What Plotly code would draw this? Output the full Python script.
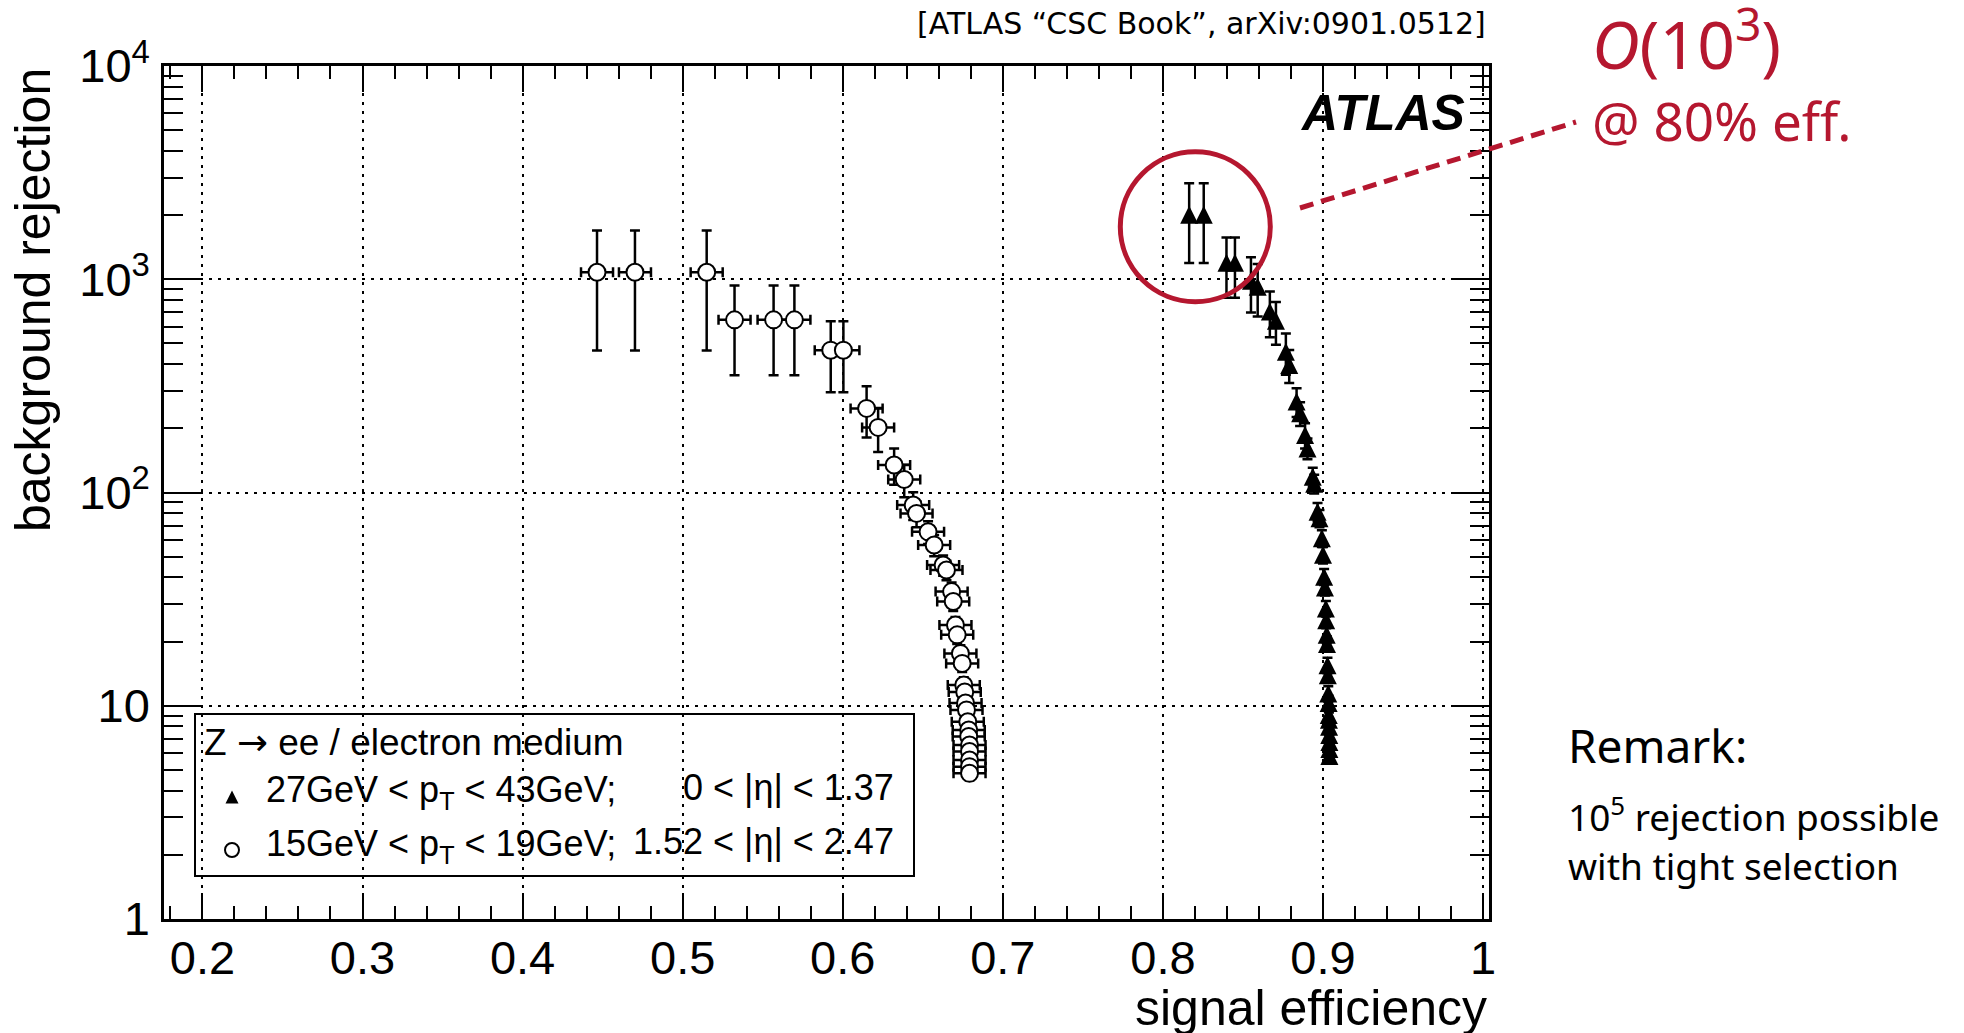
import plotly.graph_objects as go

# ---------------- data ----------------
# 27 GeV < pT < 43 GeV, 0 < |eta| < 1.37  (filled triangles)
eff_central = [0.8164, 0.8255, 0.8397, 0.8450, 0.8550, 0.8592, 0.8668, 0.8706,
               0.8768, 0.8789, 0.8835, 0.8857, 0.8888, 0.8903, 0.8936, 0.8945,
               0.8966, 0.8978, 0.8993, 0.9000, 0.9007, 0.9012, 0.9018, 0.9020,
               0.9023, 0.9025, 0.9028, 0.9030, 0.9033, 0.9035, 0.9036, 0.9037,
               0.9038, 0.9039, 0.9040, 0.9040, 0.9040]
rej_central = [2006, 2006, 1195, 1195, 984, 923, 705, 638, 457, 396,
               267, 235, 186, 161, 118.6, 110, 81.3, 75.7, 61, 51,
               40.3, 35.9, 28.6, 25.2, 21.5, 19.5, 15.5, 13.9, 11.4, 10.3,
               9.06, 8.6, 7.98, 7.3, 6.77, 6.27, 5.82]
err_central = [815, 815, 375, 375, 285, 255, 170, 145, 100, 70, 41, 30, 25, 18,
               12, 11, 8, 7, 5.5, 4.5, 3.5, 3.0, 2.4, 2.1, 1.8, 1.6, 1.3, 1.1,
               0.95, 0.85, 0.75, 0.7, 0.65, 0.6, 0.55, 0.5, 0.48]

# 15 GeV < pT < 19 GeV, 1.52 < |eta| < 2.47  (open circles)
eff_fwd = [0.4465, 0.4702, 0.5150, 0.5324, 0.5568, 0.5698, 0.5925, 0.6004,
           0.6149, 0.6221, 0.6321, 0.6384, 0.6440, 0.6461, 0.6533, 0.6571,
           0.6627, 0.6648, 0.6680, 0.6690, 0.6704, 0.6715, 0.6735, 0.6746,
           0.6756, 0.6762, 0.6767, 0.6773, 0.6781, 0.6787, 0.6787, 0.6792,
           0.6792, 0.6792, 0.6792, 0.6792]
rej_fwd = [1078, 1078, 1078, 645, 645, 645, 465, 465, 248, 202, 134.6, 115,
           87.4, 79.8, 65.4, 56.7, 45.7, 43.3, 34.3, 30.8, 23.9, 21.5, 17.6, 15.8,
           12.5, 11.6, 10.3, 9.56, 8.42, 7.7, 7.17, 6.55, 6.1, 5.57, 5.18, 4.82]
err_fwd = [615, 615, 615, 290, 290, 290, 170, 170, 67, 47, 26, 20,
           13, 11, 8, 6.5, 5, 4.5, 3.5, 3, 2.2, 2, 1.6, 1.4,
           1.1, 1.0, 0.85, 0.75, 0.65, 0.6, 0.55, 0.5, 0.45, 0.4, 0.38, 0.35]
xerr_fwd = 0.01

x_tickvals = [0.2, 0.3, 0.4, 0.5, 0.6, 0.7, 0.8, 0.9, 1.0]
x_ticktext = ["0.2", "0.3", "0.4", "0.5", "0.6", "0.7", "0.8", "0.9", "1"]
y_tickvals = [1, 10, 100, 1000, 10000]
y_ticktext = ["1", "10", "10<sup>2</sup>", "10<sup>3</sup>", "10<sup>4</sup>"]

legend_header = ("Z <span style=\"font-family:DejaVu Sans\">\u2192</span> "
                 "ee / electron medium")
legend_rows = [("27GeV < p<sub>T</sub> < 43GeV;", "0 < |\u03b7| < 1.37"),
               ("15GeV < p<sub>T</sub> < 19GeV;", "1.52 < |\u03b7| < 2.47")]

# ---------------- layout geometry ----------------
W, H = 1964, 1033
L, R, T, B = 164, 1489, 66, 919


def fx(X):
    return (X - L) / (R - L)


def fy(Y):
    return (B - Y) / (B - T)


RED = "#B5172F"
HELV = "Liberation Sans, Arial, sans-serif"
COMIC = "Noto Sans, sans-serif"

fig = go.Figure()

err_style = dict(color="black", thickness=2.5, width=5)

fig.add_trace(go.Scatter(
    x=eff_fwd, y=rej_fwd, mode="markers",
    marker=dict(symbol="circle", size=17, color="white",
                line=dict(color="black", width=2)),
    error_y=dict(type="data", array=err_fwd, symmetric=True, **err_style),
    error_x=dict(type="constant", value=xerr_fwd, **err_style),
    showlegend=False, hoverinfo="x+y"))

fig.add_trace(go.Scatter(
    x=eff_central, y=rej_central, mode="markers",
    marker=dict(symbol="arrow-down", angle=180, standoff=9, size=18,
                color="black", line=dict(width=0)),
    error_y=dict(type="data", array=err_central, symmetric=True, **err_style),
    showlegend=False, hoverinfo="x+y"))

# legend symbols on an invisible overlay (paper-like) axis
fig.add_trace(go.Scatter(
    x=[fx(232)], y=[fy(797)], xaxis="x2", yaxis="y2", mode="markers",
    marker=dict(symbol="arrow-down", angle=180, standoff=6.5, size=13,
                color="black", line=dict(width=0)),
    showlegend=False, hoverinfo="skip"))
fig.add_trace(go.Scatter(
    x=[fx(232)], y=[fy(850)], xaxis="x2", yaxis="y2", mode="markers",
    marker=dict(symbol="circle", size=14, color="white",
                line=dict(color="black", width=2)),
    showlegend=False, hoverinfo="skip"))

axis_common = dict(
    showline=True, linecolor="black", linewidth=2.5, mirror="ticks",
    ticks="inside", tickcolor="black", tickwidth=2,
    showgrid=True, gridcolor="black", gridwidth=2, griddash="3px,6px",
    zeroline=False,
    tickfont=dict(family=HELV, size=47, color="black"),
)

fig.update_layout(
    width=W, height=H,
    margin=dict(l=L, r=W - R, t=T, b=H - B),
    paper_bgcolor="white", plot_bgcolor="white",
    showlegend=False,
    xaxis=dict(range=[0.176, 1.0037], tickvals=x_tickvals, ticktext=x_ticktext,
               ticklen=26, ticklabelstandoff=-4,
               minor=dict(ticks="inside", ticklen=13, tickwidth=2, tickcolor="black",
                          dtick=0.02, tick0=0, showgrid=False),
               **axis_common),
    yaxis=dict(type="log", range=[0, 4], tickvals=y_tickvals, ticktext=y_ticktext,
               ticklen=38, ticklabelstandoff=2,
               minor=dict(ticks="inside", ticklen=19, tickwidth=2, tickcolor="black",
                          dtick="D1", showgrid=False),
               **axis_common),
    xaxis2=dict(overlaying="x", anchor="y", range=[0, 1], visible=False),
    yaxis2=dict(overlaying="y", anchor="x", range=[0, 1], visible=False),
)

shapes = [
    # legend box
    dict(type="rect", xref="paper", yref="paper", layer="between",
         x0=fx(195), x1=fx(914), y0=fy(876), y1=fy(714),
         line=dict(color="black", width=2), fillcolor="white"),
    # red circle highlighting the 80% efficiency points
    dict(type="circle", xref="paper", yref="paper", layer="above",
         x0=fx(1120.3), x1=fx(1270.3), y0=fy(301.7), y1=fy(151.7),
         line=dict(color=RED, width=5)),
    # dashed pointer line
    dict(type="line", xref="paper", yref="paper", layer="above",
         x0=fx(1300), y0=fy(208), x1=fx(1576), y1=fy(122),
         line=dict(color=RED, width=5, dash="14px,8px")),
]
fig.update_layout(shapes=shapes)

ann = []


def add_text(text, X, Y, size, family, color="black", xanchor="left",
             yanchor="middle", angle=0):
    ann.append(dict(text=text, x=fx(X), y=fy(Y), xref="paper", yref="paper",
                    xanchor=xanchor, yanchor=yanchor, showarrow=False,
                    textangle=angle,
                    font=dict(size=size, family=family, color=color)))


# axis titles (ROOT style, aligned to axis ends)
add_text("signal efficiency", 1489, 1008, 50, HELV, xanchor="right")
add_text("background rejection", 33, 66, 50, HELV, xanchor="center",
         yanchor="top", angle=-90)
# labels
add_text("[ATLAS \u201cCSC Book\u201d, arXiv:0901.0512]", 1488, 24, 30,
         "DejaVu Sans, sans-serif", xanchor="right")
add_text("<b><i>ATLAS</i></b>", 1467, 113, 50, HELV, xanchor="right")
# red remarks
add_text("<i>O</i>(10<sup>3</sup>)", 1590, 40, 66, COMIC, color=RED)
add_text("@ 80% eff.", 1590, 120, 53, COMIC, color=RED)
# remark on the right
add_text("Remark:", 1566, 745, 46, COMIC)
add_text("10<sup>5</sup> rejection possible", 1566, 814, 37, COMIC)
add_text("with tight selection", 1566, 865, 37, COMIC)
# legend text
add_text(legend_header, 202, 742, 37, HELV)
add_text(legend_rows[0][0], 264, 792, 36, HELV)
add_text(legend_rows[0][1], 896, 787, 36, HELV, xanchor="right")
add_text(legend_rows[1][0], 264, 846, 36, HELV)
add_text(legend_rows[1][1], 896, 841, 36, HELV, xanchor="right")

fig.update_layout(annotations=ann)

fig.write_html("out.html",
               config={"displayModeBar": False},
               post_script="document.body.style.margin='0';"
                           "document.body.style.overflow='hidden';")
